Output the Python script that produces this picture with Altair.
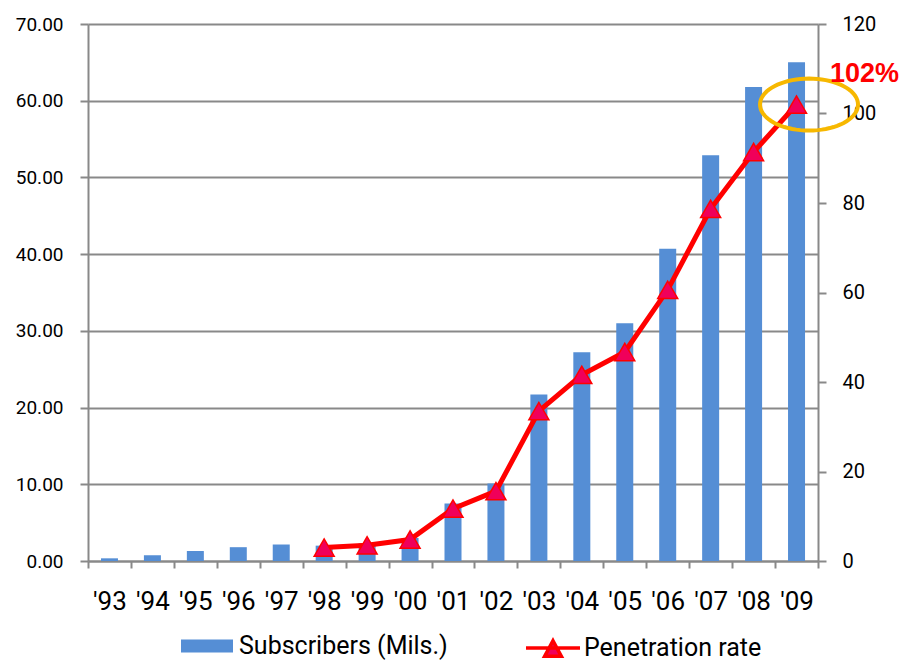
import altair as alt
import numpy as np
import pandas as pd

# Yearly figures
years = ["'93", "'94", "'95", "'96", "'97", "'98", "'99", "'00", "'01",
         "'02", "'03", "'04", "'05", "'06", "'07", "'08", "'09"]
subscribers = [0.35, 0.75, 1.3, 1.8, 2.15, 2.0, 2.3, 3.0, 7.5,
               10.1, 21.7, 27.2, 31.0, 40.7, 52.9, 61.8, 65.0]
penetration = [None, None, None, None, None, 3.0, 3.5, 4.8, 11.7,
               15.6, 33.5, 41.6, 46.7, 60.6, 78.7, 91.4, 102.0]

SUBS_NAME = "Subscribers (Mils.)"
PEN_NAME = "Penetration rate"

FONT = "Roboto, 'Liberation Sans', sans-serif"
GRAY = "#898989"
BAR_BLUE = "#558ed5"
RED = "#ff0000"
MARKER_FILL = "#f0005a"
GOLD = "#f7b800"

df = pd.DataFrame({
    "year": years,
    "subs": subscribers,
    "pen": penetration,
    "subs_key": SUBS_NAME,
    "pen_key": PEN_NAME,
})
pen_df = df.dropna(subset=["pen"]).reset_index(drop=True)
last_df = pen_df.tail(1).copy()
last_df["label"] = last_df["pen"].map(lambda v: f"{v:.0f}%")

# Ellipse outline used as a custom symbol, centred a little right of the point
theta = np.linspace(0, 2 * np.pi, 73)
ellipse_path = "M" + "L".join(
    f"{0.255 + np.cos(t):.3f},{0.53 * np.sin(t):.3f}" for t in theta
) + "Z"

# Legend glyphs: a wide block for the bars, a line with a triangle for the rate
bar_glyph = "M-1,-0.25H1V0.25H-1Z"
line_glyph = "M-1,0H1M0,-0.27L0.31,0.31L-0.31,0.31Z"

common_axis = dict(
    domainColor=GRAY, domainWidth=2,
    tickColor=GRAY, tickWidth=2,
    labelFont=FONT, labelColor="#000000",
    title=None,
)

x_enc = alt.X(
    "year:N", sort=years, title=None,
    scale=alt.Scale(paddingInner=0, paddingOuter=0),
    axis=alt.Axis(
        tickBand="extent", tickSize=7, labelAngle=0,
        labelFontSize=26, labelPadding=20, grid=False,
        **common_axis,
    ),
)

y_left = alt.Y(
    "subs:Q",
    scale=alt.Scale(domain=[0, 70], nice=False),
    axis=alt.Axis(
        values=list(range(0, 71, 10)), format=".2f",
        grid=True, gridColor=GRAY, gridWidth=2,
        tickSize=8, labelFontSize=19, labelPadding=17,
        **common_axis,
    ),
)

right_axis = alt.Axis(
    orient="right", values=list(range(0, 121, 20)), format="d",
    grid=False, tickSize=8, labelFontSize=20, labelPadding=16,
    **common_axis,
)
y_right = alt.Y("pen:Q", scale=alt.Scale(domain=[0, 120], nice=False), axis=right_axis)

legend_text = dict(
    title=None, orient="none", padding=0,
    labelFont=FONT, labelFontSize=25, labelColor="#000000",
    labelLimit=400,
)

bars = alt.Chart(df).mark_bar(size=17).encode(
    x=x_enc,
    y=y_left,
    color=alt.Color(
        "subs_key:N",
        scale=alt.Scale(domain=[SUBS_NAME], range=[BAR_BLUE]),
        legend=alt.Legend(
            legendX=93, legendY=596, labelOffset=6,
            symbolType=bar_glyph, symbolSize=52 * 52, symbolStrokeWidth=0,
            **legend_text,
        ),
    ),
)

line = alt.Chart(pen_df).mark_line(strokeWidth=5).encode(
    x=x_enc,
    y=y_right,
    stroke=alt.Stroke(
        "pen_key:N",
        scale=alt.Scale(domain=[PEN_NAME], range=[RED]),
        legend=alt.Legend(
            legendX=436, legendY=595, labelOffset=2,
            symbolType=line_glyph, symbolSize=54 * 54, symbolStrokeWidth=3.5,
            symbolFillColor=MARKER_FILL,
            **legend_text,
        ),
    ),
)

markers = alt.Chart(pen_df).mark_point(
    shape="triangle-up", filled=True, size=400,
    fill=MARKER_FILL, stroke=RED, strokeWidth=1.5, opacity=1,
).encode(x=x_enc, y=y_right)

highlight = alt.Chart(last_df).mark_point(
    shape=ellipse_path, filled=False, size=98 * 98,
    stroke=GOLD, strokeWidth=4, opacity=1,
).encode(x=x_enc, y=y_right)

value_label = alt.Chart(last_df).mark_text(
    font="'Liberation Sans', Arial, sans-serif", fontWeight="bold",
    fontSize=27, color=RED, align="center", baseline="middle",
    dx=68, dy=-31,
).encode(x=x_enc, y=y_right, text="label:N")

rate_layers = alt.layer(line, markers, highlight, value_label)

chart = (
    alt.layer(bars, rate_layers)
    .resolve_scale(y="independent")
    .properties(
        width=730, height=537,
        autosize=alt.AutoSizeParams(type="none"),
        padding={"left": 88, "top": 24, "right": 101, "bottom": 100},
        background="white",
    )
    .configure_view(stroke=None)
)

chart.save("out.html", embed_options={"renderer": "svg", "actions": False})
